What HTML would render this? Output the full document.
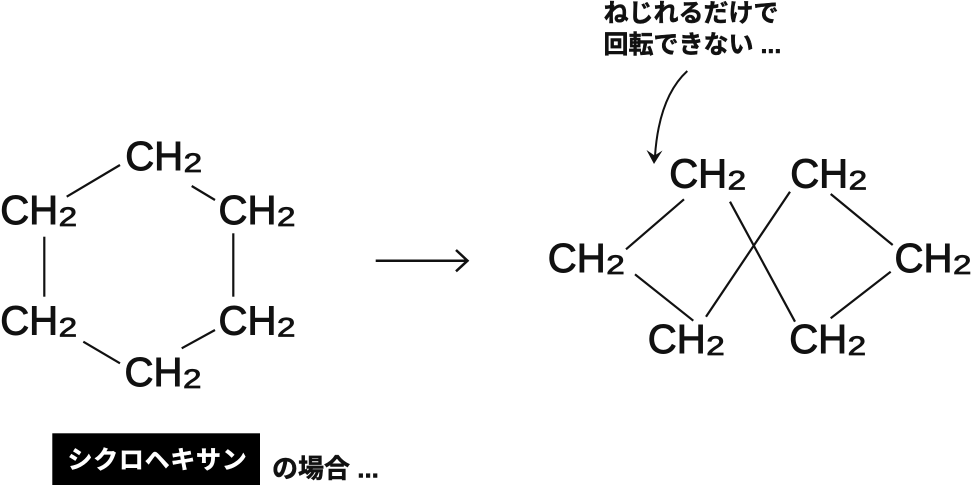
<!DOCTYPE html>
<html>
<head>
<meta charset="utf-8">
<style>
  html, body { margin: 0; padding: 0; background: #ffffff; }
  body { width: 973px; height: 488px; overflow: hidden; }
  svg { display: block; }
  .ch { font-family: "Liberation Sans", Arial, sans-serif; font-size: 40.5px; fill: #111; stroke: #111; stroke-width: 1px; }
  .sub { font-family: "Liberation Sans", Arial, sans-serif; font-size: 27px; fill: #111; stroke: #111; stroke-width: 0.8px; }
  .jp { font-family: "Liberation Sans", "Noto Sans CJK JP", "Noto Sans CJK SC", sans-serif; font-weight: bold; fill: #111; stroke: #111; stroke-width: 0.5px; }
  .jpw { font-family: "Liberation Sans", "Noto Sans CJK JP", "Noto Sans CJK SC", sans-serif; font-weight: bold; fill: #fff; stroke: #fff; stroke-width: 0.5px; }
</style>
</head>
<body>
<svg width="973" height="488" viewBox="0 0 973 488" xmlns="http://www.w3.org/2000/svg">
  <rect x="0" y="0" width="973" height="488" fill="#ffffff"/>

  <!-- Left ring labels -->
  <g>
    <text class="ch" x="125.2" y="170" textLength="58" lengthAdjust="spacingAndGlyphs">CH</text>
    <text class="sub" x="183.7" y="172" textLength="18.5" lengthAdjust="spacingAndGlyphs">2</text>

    <text class="ch" x="0.2" y="224" textLength="58" lengthAdjust="spacingAndGlyphs">CH</text>
    <text class="sub" x="58.7" y="226" textLength="18.5" lengthAdjust="spacingAndGlyphs">2</text>

    <text class="ch" x="218.5" y="224" textLength="58" lengthAdjust="spacingAndGlyphs">CH</text>
    <text class="sub" x="277" y="226" textLength="18.5" lengthAdjust="spacingAndGlyphs">2</text>

    <text class="ch" x="0.2" y="334.5" textLength="58" lengthAdjust="spacingAndGlyphs">CH</text>
    <text class="sub" x="58.7" y="336.5" textLength="18.5" lengthAdjust="spacingAndGlyphs">2</text>

    <text class="ch" x="218.5" y="334.5" textLength="58" lengthAdjust="spacingAndGlyphs">CH</text>
    <text class="sub" x="277" y="336.5" textLength="18.5" lengthAdjust="spacingAndGlyphs">2</text>

    <text class="ch" x="124.5" y="386" textLength="58" lengthAdjust="spacingAndGlyphs">CH</text>
    <text class="sub" x="183" y="388" textLength="18.5" lengthAdjust="spacingAndGlyphs">2</text>
  </g>

  <!-- Left ring bonds -->
  <g stroke="#111" stroke-width="2.2" stroke-linecap="butt" fill="none">
    <line x1="66.7" y1="196.7" x2="120" y2="165"/>
    <line x1="191.7" y1="186" x2="215" y2="200"/>
    <line x1="44.3" y1="236.7" x2="44.3" y2="296.7"/>
    <line x1="233.3" y1="233.3" x2="233.3" y2="296.7"/>
    <line x1="83.3" y1="341.7" x2="120" y2="363.3"/>
    <line x1="181.7" y1="348.3" x2="215" y2="330"/>
  </g>

  <!-- Middle arrow -->
  <g stroke="#111" stroke-width="2.5" fill="none" stroke-linecap="butt" stroke-linejoin="miter">
    <line x1="375.7" y1="260.7" x2="467" y2="260.7"/>
    <polyline points="456,250 467.5,260.7 456,271.3"/>
  </g>

  <!-- Right structure labels -->
  <g>
    <text class="ch" x="669.2" y="187.5" textLength="58" lengthAdjust="spacingAndGlyphs">CH</text>
    <text class="sub" x="727.7" y="189.5" textLength="18.5" lengthAdjust="spacingAndGlyphs">2</text>

    <text class="ch" x="790.2" y="187.5" textLength="58" lengthAdjust="spacingAndGlyphs">CH</text>
    <text class="sub" x="848.7" y="189.5" textLength="18.5" lengthAdjust="spacingAndGlyphs">2</text>

    <text class="ch" x="547.8" y="272" textLength="58" lengthAdjust="spacingAndGlyphs">CH</text>
    <text class="sub" x="606.3" y="274" textLength="18.5" lengthAdjust="spacingAndGlyphs">2</text>

    <text class="ch" x="894.5" y="272" textLength="58" lengthAdjust="spacingAndGlyphs">CH</text>
    <text class="sub" x="953" y="274" textLength="18.5" lengthAdjust="spacingAndGlyphs">2</text>

    <text class="ch" x="647.8" y="353" textLength="58" lengthAdjust="spacingAndGlyphs">CH</text>
    <text class="sub" x="706.3" y="355" textLength="18.5" lengthAdjust="spacingAndGlyphs">2</text>

    <text class="ch" x="789.2" y="353" textLength="58" lengthAdjust="spacingAndGlyphs">CH</text>
    <text class="sub" x="847.7" y="355" textLength="18.5" lengthAdjust="spacingAndGlyphs">2</text>
  </g>

  <!-- Right structure bonds -->
  <g stroke="#111" stroke-width="2.2" stroke-linecap="butt" fill="none">
    <line x1="626" y1="249.3" x2="684" y2="199.3"/>
    <line x1="635" y1="274.3" x2="693.3" y2="320.7"/>
    <line x1="730" y1="201.7" x2="795" y2="321.7"/>
    <line x1="790" y1="191.7" x2="706" y2="316.7"/>
    <line x1="830.7" y1="194" x2="892.7" y2="245"/>
    <line x1="890.7" y1="271.7" x2="830.7" y2="318.3"/>
  </g>

  <!-- Curved annotation arrow -->
  <path d="M687.3,71 Q659,97 655,156" stroke="#111" stroke-width="2" fill="none"/>
  <polygon points="646.5,150 654,164 662.5,150.5 654.6,155.5" fill="#111"/>

  <!-- Annotation text -->
  <text class="jp" x="603.5" y="21.5" font-size="25" letter-spacing="0">ねじれるだけで</text>
  <text class="jp" x="603.5" y="52.8" font-size="25" letter-spacing="0">回転できない ...</text>

  <!-- Bottom label -->
  <rect x="52.3" y="433.3" width="207.7" height="51.7" fill="#000"/>
  <text class="jpw" x="67.5" y="468.7" font-size="25" letter-spacing="0.7">シクロヘキサン</text>
  <text class="jp" x="272" y="477.6" font-size="26" letter-spacing="0">の場合 ...</text>
</svg>
</body>
</html>
